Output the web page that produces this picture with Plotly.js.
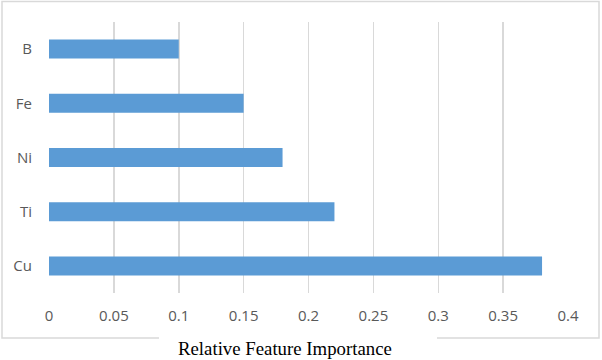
<!DOCTYPE html>
<html><head><meta charset="utf-8">
<script src="https://cdn.plot.ly/plotly-3.0.1.min.js"></script>
<style>html,body{margin:0;padding:0;background:#fff;}#chart{width:602px;height:360px;}</style>
</head><body><div id="chart"></div>
<script>
const categories = ["Cu", "Ti", "Ni", "Fe", "B"];
const importance = [0.38, 0.22, 0.18, 0.15, 0.10];
const tickValues = [0, 0.05, 0.1, 0.15, 0.2, 0.25, 0.3, 0.35, 0.4];
const tickLabels = ["0", "0.05", "0.1", "0.15", "0.2", "0.25", "0.3", "0.35", "0.4"];
const axisTitle = "Relative Feature Importance";

const L = 49, R = 568, T = 22, B = 293;
const W = 602, H = 360;
function px(x){ return (x - L) / (R - L); }
function py(y){ return (B - y) / (B - T); }
const border = '#d9d9d9';

const trace = {
  type: 'bar', orientation: 'h',
  x: importance, y: categories,
  marker: {color: '#5b9bd5'},
  width: 0.35,
  hoverinfo: 'none'
};

const layout = {
  width: W, height: H,
  margin: {l: L, r: W - R, t: T, b: H - B},
  paper_bgcolor: '#fff', plot_bgcolor: '#fff',
  showlegend: false,
  font: {family: '"Open Sans", sans-serif', size: 15, color: '#595959'},
  xaxis: {
    range: [0, 0.4], tickvals: tickValues, ticktext: tickLabels,
    showgrid: true, gridcolor: '#d9d9d9', gridwidth: 1.5,
    zeroline: false, showline: false, ticks: '', ticklen: 0,
    ticklabelstandoff: 12,
    tickfont: {size: 15, color: '#595959'}
  },
  yaxis: {
    categoryorder: 'array', categoryarray: categories,
    showgrid: false, zeroline: false, showline: false, ticks: '',
    ticklabelstandoff: 16,
    tickfont: {size: 15, color: '#595959'}
  },
  annotations: [{
    text: axisTitle, xref: 'paper', yref: 'paper',
    x: px(284.5), y: py(348), xanchor: 'center', yanchor: 'middle',
    showarrow: false,
    font: {family: '"Liberation Serif", "Times New Roman", serif', size: 18.8, color: '#000'}
  }],
  shapes: [
    {type: 'path', xref: 'paper', yref: 'paper',
     path: `M ${px(159)} ${py(338)} L ${px(2)} ${py(338)} L ${px(2)} ${py(1.5)} L ${px(599)} ${py(1.5)} L ${px(599)} ${py(338)} L ${px(437)} ${py(338)}`,
     line: {color: border, width: 1.5}}
  ]
};

Plotly.newPlot('chart', [trace], layout, {displayModeBar: false, staticPlot: true});
</script>
</body></html>
